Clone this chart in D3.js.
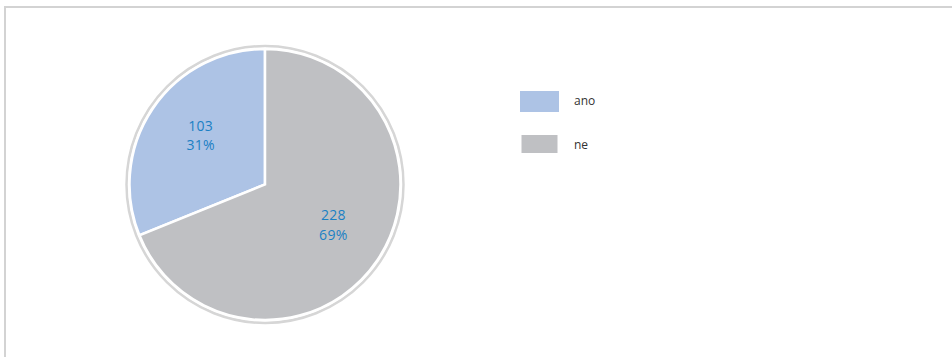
<!DOCTYPE html>
<html>
<head>
<meta charset="utf-8">
<script src="https://cdn.jsdelivr.net/npm/d3@7"></script>
<style>
  html, body { margin: 0; padding: 0; background: #fff; }
  svg { display: block; }
</style>
</head>
<body>
<svg id="chart" width="952" height="357"></svg>
<script>
// Answers and their counts
const categories = ["ano", "ne"];
const counts = [103, 228];
const percentLabels = ["31%", "69%"];
const colors = ["#adc3e5", "#bfc0c3"];

const svg = d3.select("#chart");
const font = "'Open Sans', 'Segoe UI', sans-serif";

// outer frame (continues past the right and bottom edges)
svg.append("rect")
  .attr("x", 5).attr("y", 7)
  .attr("width", 960).attr("height", 370)
  .attr("fill", "none")
  .attr("stroke", "#d3d3d3")
  .attr("stroke-width", 2);

const cx = 265, cy = 184.5, radius = 135.5;
const total = d3.sum(counts);
const start = -2 * Math.PI * counts[0] / total;

const pie = d3.pie().sort(null).value(d => d)
  .startAngle(start).endAngle(start + 2 * Math.PI);
const arcs = pie(counts);
const arc = d3.arc().innerRadius(0).outerRadius(radius);
const labelArc = d3.arc().innerRadius(80).outerRadius(80);

const g = svg.append("g").attr("transform", `translate(${cx},${cy})`);

// thin outer ring around the pie
g.append("circle")
  .attr("r", radius + 3)
  .attr("fill", "none")
  .attr("stroke", "#d6d6d6")
  .attr("stroke-width", 2.5);

g.selectAll("path.slice")
  .data(arcs)
  .join("path")
  .attr("class", "slice")
  .attr("d", arc)
  .attr("fill", (d, i) => colors[i])
  .attr("stroke", "#fff")
  .attr("stroke-width", 2.5)
  .attr("stroke-linejoin", "miter");

// value + percentage labels, each line its own text
const labels = g.selectAll("g.lbl")
  .data(arcs)
  .join("g")
  .attr("class", "lbl")
  .attr("transform", d => {
    const [x, y] = labelArc.centroid(d);
    return `translate(${x + 2},${y})`;
  });
labels.append("text")
  .attr("y", -14)
  .attr("dy", "0.35em")
  .attr("text-anchor", "middle")
  .attr("font-family", font)
  .attr("font-size", 14)
  .attr("letter-spacing", 0.3)
  .attr("fill", "#1b80c4")
  .text((d, i) => counts[i]);
labels.append("text")
  .attr("y", 5.5)
  .attr("dy", "0.35em")
  .attr("text-anchor", "middle")
  .attr("font-family", font)
  .attr("font-size", 14)
  .attr("letter-spacing", 0.3)
  .attr("fill", "#1b80c4")
  .text((d, i) => percentLabels[i]);

// legend
const legend = svg.append("g").attr("transform", "translate(520,91)");
const item = legend.selectAll("g")
  .data(categories)
  .join("g")
  .attr("transform", (d, i) => `translate(0,${i * 44})`);
item.append("rect")
  .attr("x", (d, i) => i === 0 ? 0 : 1.5)
  .attr("y", 0)
  .attr("width", (d, i) => i === 0 ? 39 : 36)
  .attr("height", (d, i) => i === 0 ? 21 : 18)
  .attr("fill", (d, i) => colors[i]);
item.append("text")
  .attr("x", 54)
  .attr("y", 10)
  .attr("dy", "0.35em")
  .attr("font-family", font)
  .attr("font-size", 12)
  .attr("fill", "#333")
  .text(d => d);
</script>
</body>
</html>
